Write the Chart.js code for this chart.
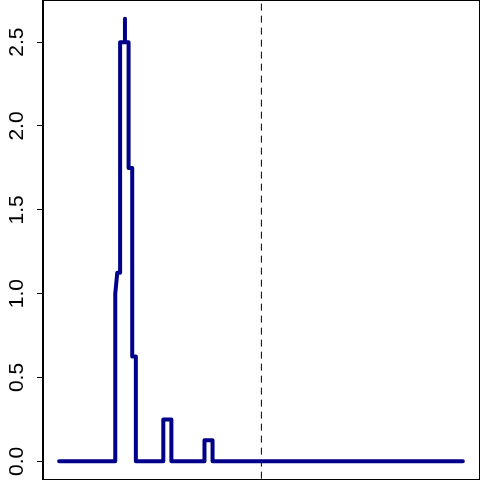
<!DOCTYPE html>
<html lang="en">
<head>
<meta charset="UTF-8">
<title>Step density</title>
<script src="https://cdn.jsdelivr.net/npm/chart.js"></script>
<style>
  html, body { margin: 0; padding: 0; background: #fff; }
  #wrap { width: 480px; height: 480px; }
</style>
</head>
<body>
<div id="wrap"><canvas id="chart" width="480" height="480"></canvas></div>
<script>
// step curve (x in 0..100 units)
const stepX = [0, 13.9, 13.9, 14.4, 15.1, 15.1, 16.3, 16.3, 16.3, 17.2, 17.2, 18.1, 18.1, 19.0, 19.0,
               25.8, 25.8, 27.8, 27.8, 36.0, 36.0, 38.0, 38.0, 100];
const stepY = [0, 0, 1.0, 1.125, 1.125, 2.5, 2.5, 2.64, 2.5, 2.5, 1.75, 1.75, 0.625, 0.625, 0,
               0, 0.25, 0.25, 0, 0, 0.125, 0.125, 0, 0];

// dashed reference line
const refX = 50.1;

const yTicks = [0, 0.5, 1, 1.5, 2, 2.5];
const xMin = -4, xMax = 104;
const yMin = -0.1056, yMax = 2.7456;

const curve = stepX.map((x, i) => ({ x: x, y: stepY[i] }));
const refLine = [{ x: refX, y: yMin - 1 }, { x: refX, y: yMax + 1 }];

const boxPlugin = {
    id: 'box',
    afterDraw(chart) {
        const a = chart.chartArea;
        const ctx = chart.ctx;
        ctx.save();
        ctx.strokeStyle = '#000';
        ctx.lineWidth = 1;
        ctx.strokeRect(a.left - 0.5, a.top - 0.5, a.right - a.left + 1, a.bottom - a.top + 1);
        ctx.restore();
    }
};

new Chart(document.getElementById('chart'), {
    type: 'line',
    data: {
        datasets: [
            {
                data: curve,
                borderColor: '#00008B',
                borderWidth: 4,
                borderCapStyle: 'round',
                borderJoinStyle: 'round',
                pointRadius: 0,
                fill: false,
                tension: 0
            },
            {
                data: refLine,
                borderColor: '#000',
                borderWidth: 1,
                borderDash: [7, 5],
                pointRadius: 0,
                fill: false
            }
        ]
    },
    options: {
        responsive: false,
        animation: false,
        devicePixelRatio: 1,
        layout: { padding: { top: 1, right: 1, bottom: 1, left: 0 } },
        plugins: { legend: { display: false }, tooltip: { enabled: false } },
        scales: {
            x: {
                type: 'linear',
                min: xMin,
                max: xMax,
                display: false
            },
            y: {
                type: 'linear',
                min: yMin,
                max: yMax,
                afterFit(scale) {
                    scale.width = 43;
                    scale.paddingTop = 0;
                    scale.paddingBottom = 0;
                },
                afterBuildTicks(scale) { scale.ticks = yTicks.map(v => ({ value: v })); },
                ticks: {
                    minRotation: 90,
                    maxRotation: 90,
                    crossAlign: 'center',
                    padding: 5,
                    color: '#000',
                    font: { family: '"Liberation Sans", Arial, sans-serif', size: 21 },
                    callback: v => Number(v).toFixed(1)
                },
                grid: {
                    drawOnChartArea: false,
                    drawTicks: true,
                    tickLength: 6,
                    color: '#000'
                },
                border: { display: true, color: '#000' }
            }
        }
    },
    plugins: [boxPlugin]
});
</script>
</body>
</html>
